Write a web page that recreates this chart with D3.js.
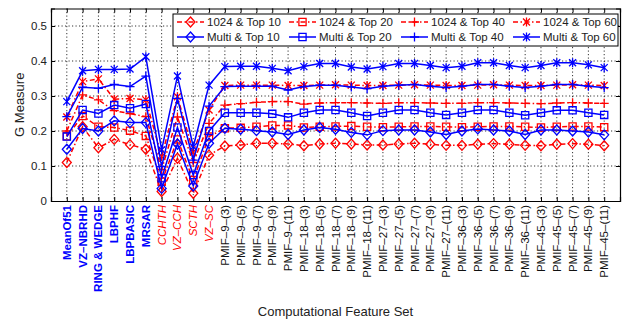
<!DOCTYPE html>
<html>
<head>
<meta charset="utf-8">
<script src="https://cdn.jsdelivr.net/npm/d3@7"></script>
<style>
  body { margin: 0; background: #fff; }
  text { font-family: "Liberation Sans", Arial, sans-serif; }
</style>
</head>
<body>
<div id="chart"></div>
<script>

// feature set names, grouped the way the labels are styled
var blueLabels = ["MeanOf51", "VZ–NBRHD", "RING & WEDGE", "LBPHF", "LBPBASIC", "MRSAR"];
var redLabels = ["CCHTH", "VZ–CCH", "SCTH", "VZ–SC"];
var pmifLabels = [
    "PMIF–9–(3)", "PMIF–9–(5)", "PMIF–9–(7)", "PMIF–9–(9)", "PMIF–9–(11)",
    "PMIF–18–(3)", "PMIF–18–(5)", "PMIF–18–(7)", "PMIF–18–(9)", "PMIF–18–(11)",
    "PMIF–27–(3)", "PMIF–27–(5)", "PMIF–27–(7)", "PMIF–27–(9)", "PMIF–27–(11)",
    "PMIF–36–(3)", "PMIF–36–(5)", "PMIF–36–(7)", "PMIF–36–(9)", "PMIF–36–(11)",
    "PMIF–45–(3)", "PMIF–45–(5)", "PMIF–45–(7)", "PMIF–45–(9)", "PMIF–45–(11)"
];
var categories = blueLabels.concat(redLabels, pmifLabels);

var yTicks = [0, 0.1, 0.2, 0.3, 0.4, 0.5];

var g1024_top10 = [0.110, 0.212, 0.152, 0.176, 0.161, 0.148, 0.027, 0.122, 0.022, 0.131,
    0.157, 0.160, 0.165, 0.165, 0.163, 0.158, 0.163, 0.165, 0.163, 0.160, 0.160, 0.163, 0.165, 0.162, 0.159,
    0.159, 0.162, 0.164, 0.162, 0.159, 0.158, 0.162, 0.164, 0.162, 0.158];
var g1024_top20 = [0.185, 0.243, 0.212, 0.210, 0.201, 0.186, 0.055, 0.176, 0.060, 0.184,
    0.208, 0.209, 0.212, 0.216, 0.216, 0.210, 0.212, 0.213, 0.214, 0.212, 0.211, 0.212, 0.213, 0.213, 0.212,
    0.211, 0.212, 0.213, 0.213, 0.212, 0.210, 0.212, 0.213, 0.213, 0.211];
var g1024_top40 = [0.200, 0.303, 0.289, 0.258, 0.250, 0.241, 0.090, 0.240, 0.110, 0.222,
    0.274, 0.278, 0.282, 0.284, 0.284, 0.277, 0.280, 0.281, 0.281, 0.280, 0.279, 0.281, 0.281, 0.280, 0.279,
    0.279, 0.281, 0.281, 0.280, 0.279, 0.278, 0.280, 0.281, 0.280, 0.279];
var g1024_top60 = [0.240, 0.341, 0.349, 0.291, 0.293, 0.289, 0.127, 0.298, 0.140, 0.260,
    0.330, 0.331, 0.331, 0.331, 0.330, 0.330, 0.331, 0.332, 0.331, 0.330, 0.330, 0.331, 0.332, 0.331, 0.330,
    0.330, 0.331, 0.332, 0.331, 0.330, 0.330, 0.331, 0.332, 0.331, 0.330];
var multi_top10 = [0.148, 0.207, 0.200, 0.229, 0.224, 0.224, 0.036, 0.163, 0.043, 0.165,
    0.208, 0.205, 0.201, 0.197, 0.190, 0.203, 0.210, 0.205, 0.196, 0.189, 0.201, 0.203, 0.203, 0.197, 0.190,
    0.200, 0.206, 0.203, 0.200, 0.190, 0.203, 0.203, 0.200, 0.197, 0.189];
var multi_top20 = [0.184, 0.260, 0.250, 0.274, 0.265, 0.277, 0.065, 0.210, 0.074, 0.200,
    0.252, 0.252, 0.252, 0.249, 0.239, 0.252, 0.260, 0.260, 0.252, 0.243, 0.252, 0.260, 0.260, 0.252, 0.246,
    0.252, 0.260, 0.260, 0.252, 0.245, 0.252, 0.259, 0.259, 0.252, 0.246];
var multi_top40 = [0.241, 0.325, 0.322, 0.333, 0.327, 0.357, 0.098, 0.293, 0.117, 0.271,
    0.327, 0.328, 0.328, 0.328, 0.317, 0.327, 0.331, 0.331, 0.326, 0.321, 0.328, 0.331, 0.333, 0.328, 0.324,
    0.328, 0.333, 0.333, 0.328, 0.324, 0.328, 0.333, 0.333, 0.328, 0.324];
var multi_top60 = [0.284, 0.372, 0.376, 0.376, 0.377, 0.412, 0.146, 0.357, 0.155, 0.331,
    0.384, 0.385, 0.385, 0.379, 0.372, 0.384, 0.393, 0.393, 0.383, 0.377, 0.384, 0.393, 0.393, 0.387, 0.381,
    0.385, 0.395, 0.395, 0.387, 0.381, 0.387, 0.395, 0.395, 0.389, 0.381];

var dashDot = "5,2.5,1.5,2.5";
var series = [
    {name: "1024 & Top 10", values: g1024_top10, color: "#ff0000", marker: "diamond", dash: dashDot},
    {name: "1024 & Top 20", values: g1024_top20, color: "#ff0000", marker: "square", dash: dashDot},
    {name: "1024 & Top 40", values: g1024_top40, color: "#ff0000", marker: "plus", dash: dashDot},
    {name: "1024 & Top 60", values: g1024_top60, color: "#ff0000", marker: "star", dash: dashDot},
    {name: "Multi & Top 10", values: multi_top10, color: "#0000ff", marker: "diamond", dash: null},
    {name: "Multi & Top 20", values: multi_top20, color: "#0000ff", marker: "square", dash: null},
    {name: "Multi & Top 40", values: multi_top40, color: "#0000ff", marker: "plus", dash: null},
    {name: "Multi & Top 60", values: multi_top60, color: "#0000ff", marker: "star", dash: null}
];

var W = 642, H = 320;
var plotLeft = 51, plotRight = 620, plotTop = 8.5, plotBottom = 201;

var svg = d3.select("#chart").append("svg")
    .attr("width", W)
    .attr("height", H);

var xScale = d3.scaleLinear()
    .domain([-1, categories.length])
    .range([plotLeft, plotRight]);

var yScale = d3.scaleLinear()
    .domain([0, 0.55])
    .range([plotBottom, plotTop]);

function markerPath(type) {
    if (type == "diamond") return "M0,-5L4.5,0L0,5L-4.5,0Z";
    if (type == "square") return "M-3.6,-3.6H3.6V3.6H-3.6Z";
    if (type == "plus") return "M-4.5,0H4.5M0,-4.5V4.5";
    return "M-3.5,-3.5L3.5,3.5M-3.5,3.5L3.5,-3.5M0,-4.5V4.5";
}

// grid
svg.append("g")
    .selectAll("line.vgrid")
    .data(categories)
    .enter()
    .append("line")
    .attr("class", "vgrid")
    .attr("x1", function (d, i) { return xScale(i); })
    .attr("x2", function (d, i) { return xScale(i); })
    .attr("y1", plotTop)
    .attr("y2", plotBottom)
    .style("stroke", "#000")
    .style("stroke-width", 0.8)
    .style("stroke-dasharray", "1.2,2.3");

svg.append("g")
    .selectAll("line.hgrid")
    .data(yTicks.slice(1))
    .enter()
    .append("line")
    .attr("class", "hgrid")
    .attr("x1", plotLeft)
    .attr("x2", plotRight)
    .attr("y1", function (d) { return yScale(d); })
    .attr("y2", function (d) { return yScale(d); })
    .style("stroke", "#000")
    .style("stroke-width", 0.8)
    .style("stroke-dasharray", "1.2,2.3");

// axes with inward ticks on all four sides
var xIdx = d3.range(categories.length);

svg.append("g")
    .attr("transform", "translate(0," + plotBottom + ")")
    .call(d3.axisBottom(xScale).tickValues(xIdx).tickSize(-4).tickFormat(""));
svg.append("g")
    .attr("transform", "translate(0," + plotTop + ")")
    .call(d3.axisTop(xScale).tickValues(xIdx).tickSize(-4).tickFormat(""));
svg.append("g")
    .attr("transform", "translate(" + plotLeft + ",0)")
    .call(d3.axisLeft(yScale).tickValues(yTicks).tickSize(-4).tickPadding(4)
        .tickFormat(function (d) { return d == 0 ? "0" : d3.format(".1f")(d); }));
svg.append("g")
    .attr("transform", "translate(" + plotRight + ",0)")
    .call(d3.axisRight(yScale).tickValues(yTicks).tickSize(-4).tickFormat(""));

svg.selectAll(".domain").style("stroke", "#000").style("stroke-width", 1.2);
svg.selectAll(".tick line").style("stroke", "#000");
svg.selectAll(".tick text").style("font-size", "11.5px").style("fill", "#222")
    .style("font-family", "'Liberation Sans', Arial, sans-serif");

// x labels, rotated
svg.append("g")
    .selectAll("text.xlab")
    .data(categories)
    .enter()
    .append("text")
    .attr("class", "xlab")
    .attr("transform", function (d, i) {
        return "translate(" + xScale(i) + "," + (plotBottom + 4) + ") rotate(-90)";
    })
    .attr("dy", "0.35em")
    .attr("text-anchor", "end")
    .style("font-size", "11.5px")
    .style("font-weight", function (d, i) { return i < blueLabels.length ? "bold" : "normal"; })
    .style("font-style", function (d, i) {
        return (i >= blueLabels.length && i < blueLabels.length + redLabels.length) ? "italic" : "normal";
    })
    .style("fill", function (d, i) {
        if (i < blueLabels.length) return "#0000ff";
        if (i < blueLabels.length + redLabels.length) return "#ff0000";
        return "#111";
    })
    .text(function (d) { return d; });

// axis titles
svg.append("text")
    .attr("transform", "translate(24," + ((plotTop + plotBottom) / 2) + ") rotate(-90)")
    .attr("text-anchor", "middle")
    .style("font-size", "13px")
    .style("fill", "#222")
    .text("G Measure");

svg.append("text")
    .attr("x", (plotLeft + plotRight) / 2)
    .attr("y", 316)
    .attr("text-anchor", "middle")
    .style("font-size", "13px")
    .style("fill", "#222")
    .text("Computational Feature Set");

// lines and markers
var line = d3.line()
    .x(function (d, i) { return xScale(i); })
    .y(function (d) { return yScale(d); });

series.forEach(function (s) {
    var g = svg.append("g");
    g.append("path")
        .datum(s.values)
        .attr("d", line)
        .style("fill", "none")
        .style("stroke", s.color)
        .style("stroke-width", 1.5)
        .style("stroke-dasharray", s.dash);
    g.selectAll("path.mk")
        .data(s.values)
        .enter()
        .append("path")
        .attr("class", "mk")
        .attr("transform", function (d, i) { return "translate(" + xScale(i) + "," + yScale(d) + ")"; })
        .attr("d", markerPath(s.marker))
        .style("fill", "none")
        .style("stroke", s.color)
        .style("stroke-width", 1.3);
});

// legend
var legX = 173, legY = 14, colW = 112, rowH = 15;
var legend = svg.append("g");
legend.append("rect")
    .attr("x", legX)
    .attr("y", legY)
    .attr("width", 445)
    .attr("height", 32)
    .style("fill", "#fff")
    .style("stroke", "#000")
    .style("stroke-width", 1);

var items = legend.selectAll("g.item")
    .data(series)
    .enter()
    .append("g")
    .attr("class", "item")
    .attr("transform", function (d, i) {
        return "translate(" + (legX + 4 + (i % 4) * colW) + "," + (legY + 8 + Math.floor(i / 4) * rowH) + ")";
    });

items.append("line")
    .attr("x1", 0).attr("x2", 27)
    .attr("y1", 0).attr("y2", 0)
    .style("stroke", function (d) { return d.color; })
    .style("stroke-width", 1.5)
    .style("stroke-dasharray", function (d) { return d.dash; });
items.append("path")
    .attr("transform", "translate(13.5,0)")
    .attr("d", function (d) { return markerPath(d.marker); })
    .style("fill", "none")
    .style("stroke", function (d) { return d.color; })
    .style("stroke-width", 1.3);
items.append("text")
    .attr("x", 30)
    .attr("y", 0)
    .attr("dy", "0.35em")
    .style("font-size", "11.5px")
    .style("fill", "#222")
    .text(function (d) { return d.name; });

</script>
</body>
</html>
